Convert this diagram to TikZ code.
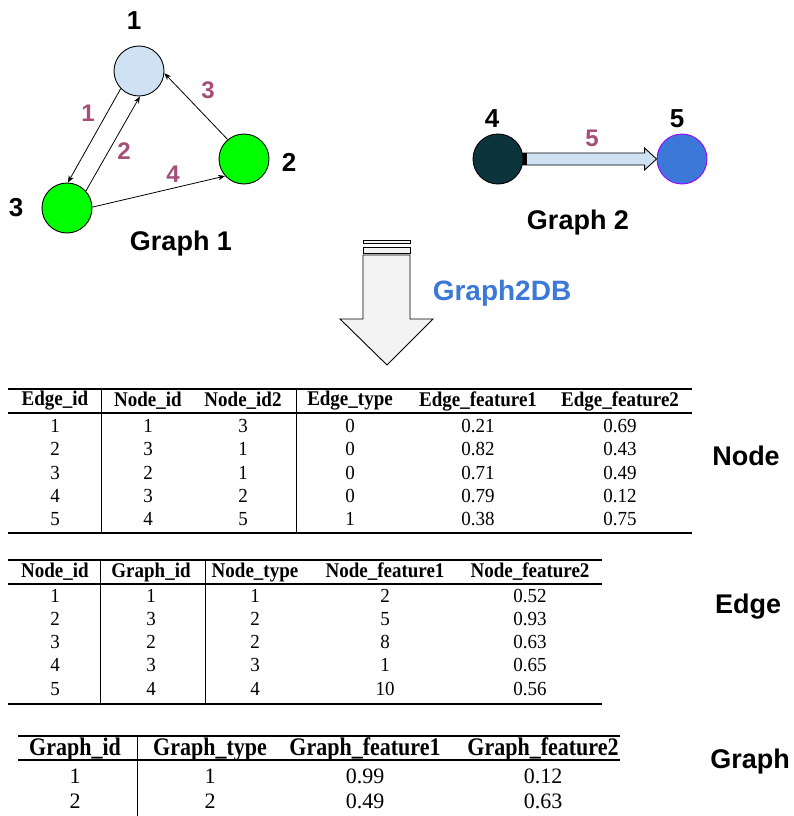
\documentclass[tikz,border=0pt]{standalone}
\usepackage{fontspec}
\usepackage{graphicx}
\setmainfont{Liberation Serif}
\setsansfont{Liberation Sans}
\usetikzlibrary{arrows.meta,calc}
\definecolor{mauve}{HTML}{A64D79}
\definecolor{lblue}{HTML}{CFE2F3}
\definecolor{gdark}{HTML}{0C343D}
\definecolor{gblue}{HTML}{3C78D8}
\definecolor{gpurple}{HTML}{9900FF}
\definecolor{agray}{HTML}{F3F3F3}
\definecolor{dbblue}{HTML}{3C78D8}
\newcommand\hst[1]{\scalebox{1}[1.1]{#1}}
\newcommand\bst[1]{\scalebox{1}[1.05]{#1}}
\newcommand\cst[1]{\scalebox{1}[1.15]{#1}}
\tikzset{
 gnode/.style={circle, draw=black, line width=0.9pt, minimum size=50pt, inner sep=0pt},
 numlbl/.style={font=\sffamily\bfseries\fontsize{26}{26}\selectfont, inner sep=0pt},
 edgelbl/.style={text=mauve, font=\sffamily\bfseries\fontsize{24}{24}\selectfont, inner sep=0pt},
 titlelbl/.style={font=\sffamily\bfseries\fontsize{27}{27}\selectfont, inner sep=0pt},
 conn/.style={line width=0.8pt, -{Stealth[length=7pt,width=5.5pt]}},
 hd/.style={font=\bfseries\fontsize{19}{19}\selectfont, inner sep=0pt},
 cell/.style={font=\fontsize{19}{19}\selectfont, inner sep=0pt},
 hdc/.style={font=\bfseries\fontsize{22}{22}\selectfont, inner sep=0pt},
 cellc/.style={font=\fontsize{22}{22}\selectfont, inner sep=0pt},
 toprule/.style={line width=2.2pt},
 midrule/.style={line width=1.4pt},
 botrule/.style={line width=2.6pt},
 vrule/.style={line width=0.8pt},
}
\begin{document}
\begin{tikzpicture}[x=1pt,y=-1pt]
\useasboundingbox (0,0) rectangle (794,816);

% ---------- Graph 1 ----------
\node[gnode, fill=lblue] (n1) at (139,71) {};
\node[gnode, fill=green] (n2) at (244,159) {};
\node[gnode, fill=green] (n3) at (67,208) {};
\node[numlbl] (l1) at (134,21) {1};
\node[numlbl] (l2) at (289,162) {2};
\node[numlbl] (l3) at (16,208) {3};
\draw[conn] (n1.-136) -- (n3.88);
\draw[conn] (n3.42) -- (n1.-88);
\draw[conn] (n2.130) -- (n1.-5);
\draw[conn] (n3.2) -- (n2.-138);
\node[edgelbl] (e1) at (88,113) {1};
\node[edgelbl] (e2) at (124,151) {2};
\node[edgelbl] (e3) at (208,90) {3};
\node[edgelbl] (e4) at (173,174) {4};
\node[titlelbl] (g1) at (181,244) {Graph 1};

% ---------- Graph 2 ----------
\node[gnode, fill=gdark] (n4) at (498,159) {};
\node[gnode, fill=gblue, draw=gpurple] (n5) at (682,159) {};
\node[numlbl] (l4) at (492,119) {4};
\node[numlbl] (l5) at (677,119) {5};
\draw[line width=0.9pt, fill=lblue]
  ($(n4.east)+(0,-6)$) -- ($(n5.west)+(-12,-6)$) -- ($(n5.west)+(-12,-11)$)
  -- (n5.west) -- ($(n5.west)+(-12,11)$) -- ($(n5.west)+(-12,6)$)
  -- ($(n4.east)+(0,6)$) -- cycle;
\fill[black] ($(n4.east)+(0,-6)$) rectangle ($(n4.east)+(4,6)$);
\node[edgelbl] (e5) at (592,138) {5};
\node[titlelbl] (g2) at (578,223) {Graph 2};

% ---------- Graph2DB arrow ----------
\draw[line width=0.9pt, fill=agray] (363,240) rectangle (410,243);
\draw[line width=0.9pt, fill=agray] (363,247) rectangle (410,253);
\draw[line width=0.9pt, fill=agray] (363,255) -- (363,319) -- (340,319) -- (387,365)
  -- (433,319) -- (410,319) -- (410,255) -- cycle;
\node[titlelbl, text=dbblue, font=\sffamily\bfseries\fontsize{28}{28}\selectfont] (db) at (502,293) {Graph2DB};

% ---------- Table 1 ----------
\draw[toprule] (8,389) -- (692,389);
\draw[midrule] (8,413) -- (692,413);
\draw[botrule] (8,533) -- (692,533);
\draw[vrule] (101,389) -- (101,533);
\draw[vrule] (296,389) -- (296,533);
\foreach \x/\t [count=\c] in {55/Edge\_id,148/Node\_id,243/Node\_id2,350/Edge\_type,478/Edge\_feature1,620/Edge\_feature2}
  \node[hd] (ta-h\c) at (\x,401) {\hst{\t}};
\foreach \y/\a/\b/\cc/\d/\e/\f [count=\r] in {
  426/1/1/3/0/0.21/0.69, 449/2/3/1/0/0.82/0.43, 473/3/2/1/0/0.71/0.49,
  496/4/3/2/0/0.79/0.12, 519/5/4/5/1/0.38/0.75}{
  \node[cell] (ta-\r-1) at (55,\y) {\bst{\a}};
  \node[cell] (ta-\r-2) at (148,\y) {\bst{\b}};
  \node[cell] (ta-\r-3) at (243,\y) {\bst{\cc}};
  \node[cell] (ta-\r-4) at (350,\y) {\bst{\d}};
  \node[cell] (ta-\r-5) at (478,\y) {\bst{\e}};
  \node[cell] (ta-\r-6) at (620,\y) {\bst{\f}};
}
\node[titlelbl] (lnode) at (746,456) {Node};

% ---------- Table 2 ----------
\draw[toprule] (8,560) -- (602,560);
\draw[midrule] (8,584) -- (602,584);
\draw[botrule] (8,704) -- (602,704);
\draw[vrule] (100,560) -- (100,704);
\draw[vrule] (205,560) -- (205,704);
\foreach \x/\t [count=\c] in {55/Node\_id,151/Graph\_id,255/Node\_type,385/Node\_feature1,530/Node\_feature2}
  \node[hd] (tb-h\c) at (\x,572) {\hst{\t}};
\foreach \y/\a/\b/\cc/\d/\e [count=\r] in {
  596/1/1/1/2/0.52, 619/2/3/2/5/0.93, 642/3/2/2/8/0.63,
  665/4/3/3/1/0.65, 689/5/4/4/10/0.56}{
  \node[cell] (tb-\r-1) at (55,\y) {\bst{\a}};
  \node[cell] (tb-\r-2) at (151,\y) {\bst{\b}};
  \node[cell] (tb-\r-3) at (255,\y) {\bst{\cc}};
  \node[cell] (tb-\r-4) at (385,\y) {\bst{\d}};
  \node[cell] (tb-\r-5) at (530,\y) {\bst{\e}};
}
\node[titlelbl] (ledge) at (748,607) {Edge};

% ---------- Table 3 ----------
\draw[toprule] (18,736) -- (620,736);
\draw[midrule] (18,760) -- (620,760);
\draw[vrule] (137,736) -- (137,816);
\foreach \x/\t [count=\c] in {75/Graph\_id,210/Graph\_type,365/Graph\_feature1,543/Graph\_feature2}
  \node[hdc] (tc-h\c) at (\x,749) {\cst{\t}};
\foreach \y/\a/\b/\cc/\d [count=\r] in {776/1/1/0.99/0.12, 801/2/2/0.49/0.63}{
  \node[cellc] (tc-\r-1) at (75,\y) {\a};
  \node[cellc] (tc-\r-2) at (210,\y) {\b};
  \node[cellc] (tc-\r-3) at (365,\y) {\cc};
  \node[cellc] (tc-\r-4) at (543,\y) {\d};
}
\node[titlelbl] (lgraph) at (750,762) {Graph};
\end{tikzpicture}
\end{document}
